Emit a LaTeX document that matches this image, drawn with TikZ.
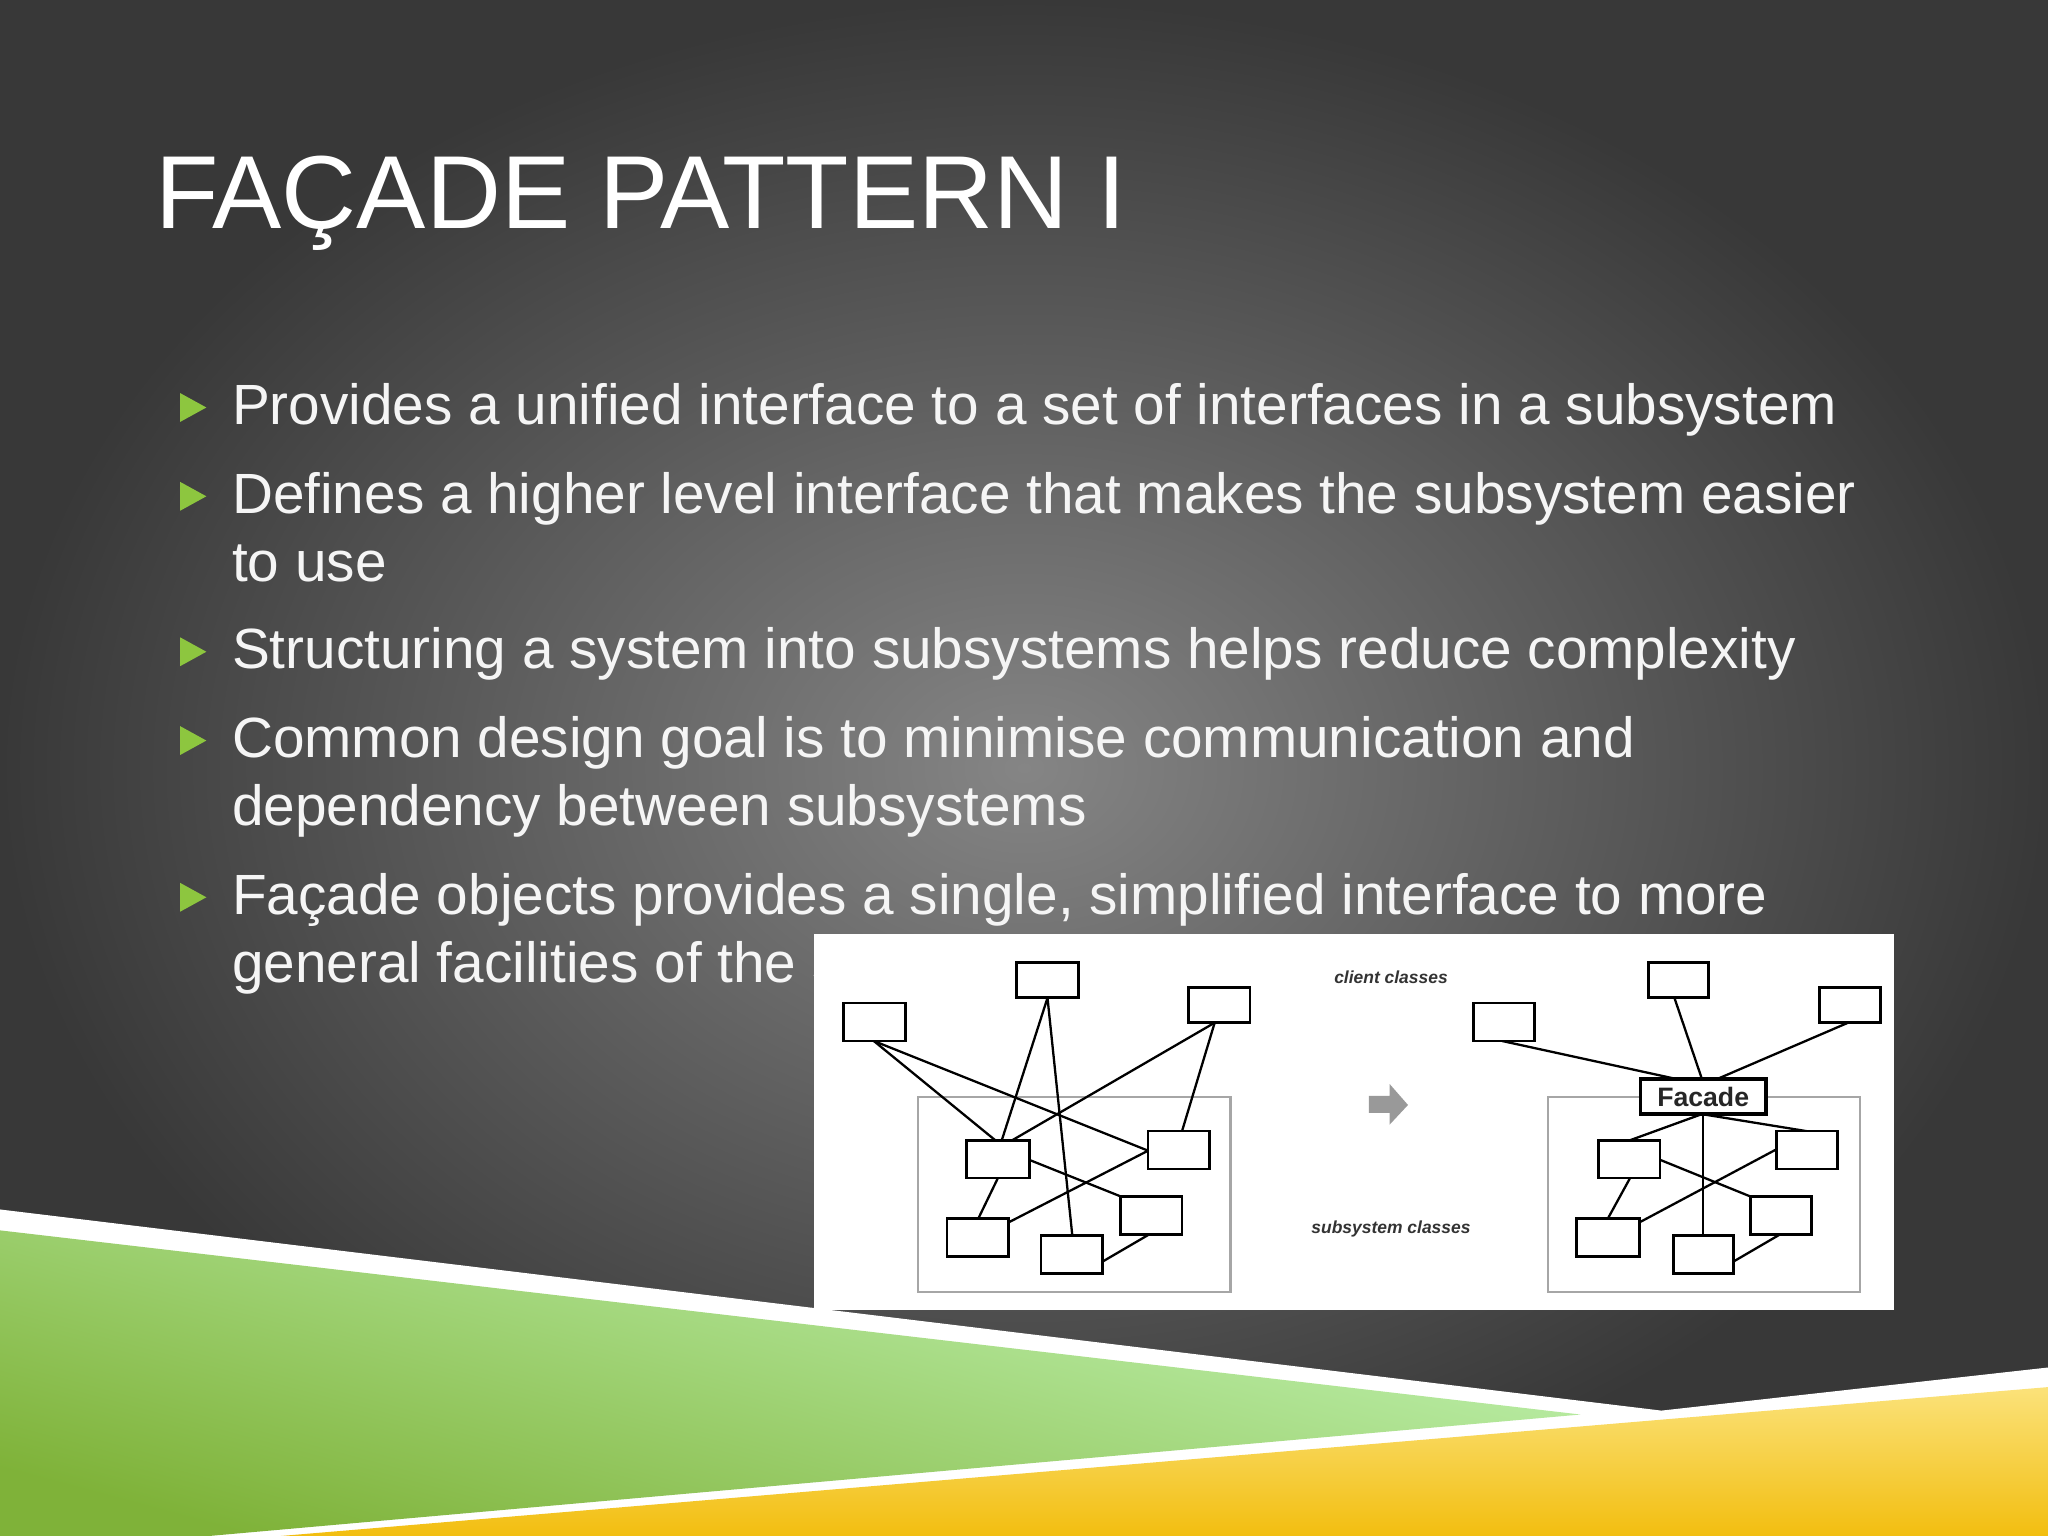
\documentclass[tikz,border=0pt]{standalone}
\usepackage{fontspec}
\setmainfont{Liberation Sans}
\begin{document}
\begin{tikzpicture}[x=0.01cm,y=-0.01cm,
  txt/.style={anchor=base west,text=white!92!gray,inner sep=0pt,font=\fontsize{12.35pt}{14pt}\selectfont},
  bul/.style={fill=bulgreen,draw=none},
  lk/.style={line width=0.5pt,black},
  frame/.style={draw=gray!70,line width=0.5pt}]
\definecolor{bgdark}{HTML}{383838}
\definecolor{bglight}{HTML}{858585}
\definecolor{bulgreen}{HTML}{8DC63F}
\definecolor{gold}{HTML}{F2BE10}
\definecolor{goldlight}{HTML}{FBE27A}
\useasboundingbox (0,0) rectangle (1568,1176);
\shade[outer color=bgdark,inner color=bglight] (0,0) rectangle (1568,1176);
% bottom bands
\fill[white] (0,926) -- (1272,1080) -- (1568,1047) -- (1568,1176) -- (0,1176) -- cycle;
\shade[top color=green!20!white!85!bulgreen,bottom color=bulgreen!90!black,shading angle=-15] (0,942) -- (1210,1083) -- (160,1176) -- (0,1176) -- cycle;
\shade[top color=goldlight,bottom color=gold] (215,1176) -- (1568,1062) -- (1568,1176) -- cycle;
% title
\node[anchor=base west,inner sep=0pt,text=white,font=\fontsize{22.6pt}{26pt}\selectfont] (title) at (118,175) {FAÇADE PATTERN I};
% bullets
\foreach \y in {325,393,512,580,700}{
  \fill[bul] (138,\y-24) -- (158,\y-13) -- (138,\y-2) -- cycle;}
\node[txt] (l1) at (177,325) {Provides a unified interface to a set of interfaces in a subsystem};
\node[txt] (l2) at (177,393) {Defines a higher level interface that makes the subsystem easier};
\node[txt] (l3) at (177,445) {to use};
\node[txt] (l4) at (177,512) {Structuring a system into subsystems helps reduce complexity};
\node[txt] (l5) at (177,580) {Common design goal is to minimise communication and};
\node[txt] (l6) at (177,632) {dependency between subsystems};
\node[txt] (l7) at (177,700) {Façade objects provides a single, simplified interface to more};
\node[txt] (l8) at (177,752) {general facilities of the subsystem};
% panel
\fill[white] (623,715) rectangle (1450,1003);
\def\bx#1#2#3#4#5{\draw[black,line width=0.6pt,fill=white] (#2,#3) rectangle (#4,#5); \coordinate (#1) at ({(#2+#4)/2},{(#3+#5)/2});}
% left diagram
\draw[frame] (703,840) rectangle (942,989);
\draw[lk] (669,797) -- (762,873);
\draw[lk] (669,797) -- (879,881);
\draw[lk] (802,764) -- (767,873);
\draw[lk] (802,764) -- (821,946);
\draw[lk] (930,783) -- (775,873);
\draw[lk] (930,783) -- (905,866);
\draw[lk] (764,902) -- (749,933);
\draw[lk] (788,888) -- (858,916);
\draw[lk] (879,881) -- (772,936);
\draw[lk] (880,945) -- (844,966);
\bx{A}{646}{768}{693}{797}
\bx{B}{778}{737}{826}{764}
\bx{C}{910}{756}{957}{783}
\bx{D}{740}{873}{788}{902}
\bx{E}{879}{866}{926}{895}
\bx{F}{725}{933}{772}{962}
\bx{G}{858}{916}{905}{945}
\bx{H}{797}{946}{844}{975}
% right diagram
\draw[frame] (1185,840) rectangle (1424,989);
\draw[lk] (1150,797) -- (1283,826);
\draw[lk] (1282,764) -- (1303,826);
\draw[lk] (1415,783) -- (1315,826);
\draw[lk] (1303,853) -- (1248,873);
\draw[lk] (1303,853) -- (1383,866);
\draw[lk] (1304,853) -- (1304,946);
\draw[lk] (1248,902) -- (1231,933);
\draw[lk] (1271,888) -- (1340,916);
\draw[lk] (1360,880) -- (1255,936);
\draw[lk] (1363,945) -- (1327,966);
\bx{R1}{1128}{768}{1175}{797}
\bx{R2}{1262}{737}{1308}{764}
\bx{R3}{1393}{756}{1440}{783}
\bx{S1}{1224}{873}{1271}{902}
\bx{S2}{1360}{866}{1407}{895}
\bx{S3}{1207}{933}{1255}{962}
\bx{S4}{1340}{916}{1387}{945}
\bx{S5}{1281}{946}{1327}{975}
\draw[black,line width=0.8pt,fill=white] (1256,826) rectangle (1352,853);
\node[inner sep=0pt,font=\fontsize{5.8pt}{7pt}\selectfont\bfseries,text=black!85] (fac) at (1304,840) {Facade};
% arrow
\fill[gray!80] (1048,839) -- (1064,839) -- (1064,830) -- (1078,846) -- (1064,861) -- (1064,852) -- (1048,852) -- cycle;
\node[font=\fontsize{3.8pt}{4pt}\selectfont\bfseries\itshape,text=black!80] (cc) at (1065,748) {client classes};
\node[font=\fontsize{3.8pt}{4pt}\selectfont\bfseries\itshape,text=black!80] (sc) at (1065,941) {subsystem classes};
\end{tikzpicture}
\end{document}
